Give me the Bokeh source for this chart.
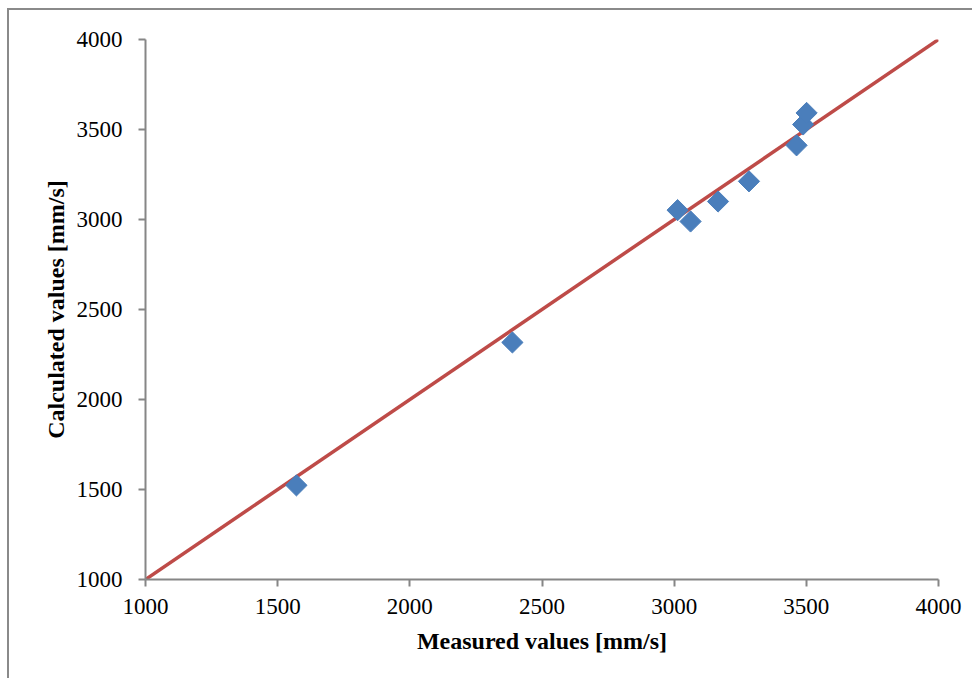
import numpy as np
from bokeh.plotting import figure
from bokeh.models import Range1d, FixedTicker
from bokeh.embed import file_html
from bokeh.resources import INLINE

# Data
measured = [1571, 2388, 3013, 3062, 3166, 3283, 3463, 3488, 3501]
calculated = [1523, 2317, 3052, 2989, 3100, 3212, 3412, 3528, 3592]
line_x = [1000, 4000]
line_y = [1000, 4000]
ticks = [1000, 1500, 2000, 2500, 3000, 3500, 4000]

p = figure(width=965, height=670, output_backend="svg", toolbar_location=None,
           x_range=Range1d(1000, 4000), y_range=Range1d(1000, 4000),
           min_border_left=136, min_border_right=36, min_border_top=29, min_border_bottom=101)
p.styles = {"margin-left": "7px", "margin-top": "8px",
            "border-left": "2px solid #8a8a8a", "border-top": "2px solid #8a8a8a"}
p.outline_line_color = None
p.grid.visible = False
p.background_fill_color = "white"
p.border_fill_color = "white"

p.line(line_x, line_y, line_color="#BE4B48", line_width=3.5)
p.scatter(measured, calculated, marker="square", size=15, angle=np.pi / 4,
          fill_color="#4A7EBB", line_color="#4A7EBB", line_width=1)

for ax in (p.xaxis[0], p.yaxis[0]):
    ax.ticker = FixedTicker(ticks=ticks)
    ax.minor_tick_line_color = None
    ax.axis_line_color = "#868686"
    ax.axis_line_width = 2
    ax.major_tick_line_color = "#868686"
    ax.major_tick_line_width = 2
    ax.major_tick_out = 7
    ax.major_tick_in = 0
    ax.major_label_text_font = "Liberation Serif"
    ax.major_label_text_font_size = "23px"
    ax.major_label_text_color = "black"
    ax.axis_label_text_font = "Liberation Serif"
    ax.axis_label_text_font_size = "24px"
    ax.axis_label_text_font_style = "bold"
    ax.axis_label_text_color = "black"

p.xaxis.axis_label = "Measured values [mm/s]"
p.yaxis.axis_label = "Calculated values [mm/s]"
p.xaxis.major_label_standoff = 12
p.yaxis.major_label_standoff = 16
p.xaxis.axis_label_standoff = 11
p.yaxis.axis_label_standoff = 5

open("out.html", "w").write(file_html(p, INLINE))
